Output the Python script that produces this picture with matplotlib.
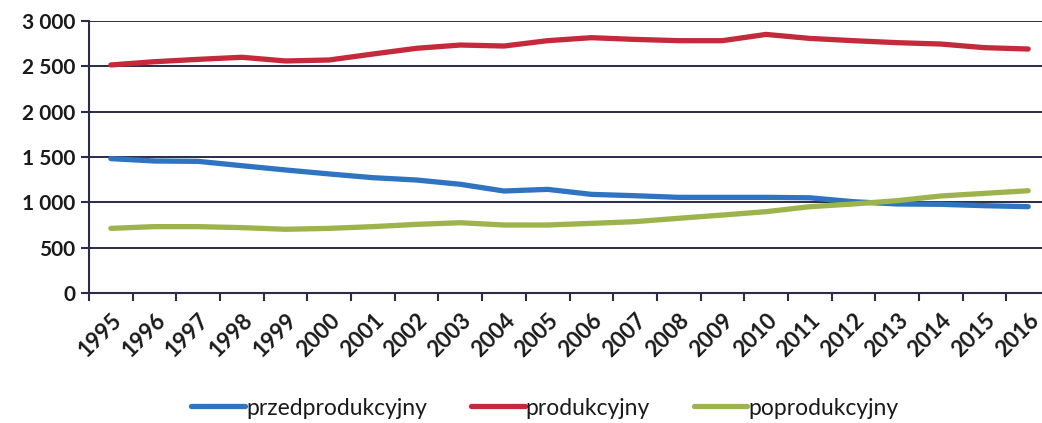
import numpy as np
import matplotlib
matplotlib.use('Agg')
import matplotlib.pyplot as plt
from matplotlib.ticker import FuncFormatter, FixedLocator

#--- DATA ---------------------------------------------------------------------+

years = [str(y) for y in range(1995, 2017)]

przedprodukcyjny = [1482, 1456, 1452, 1404, 1357, 1313, 1272, 1246, 1199, 1125, 1143,
                    1088, 1073, 1055, 1055, 1055, 1050, 1007, 982, 978, 963, 952]
produkcyjny = [2515, 2551, 2577, 2600, 2559, 2570, 2636, 2699, 2735, 2724, 2783,
               2816, 2797, 2783, 2783, 2852, 2808, 2783, 2761, 2746, 2706, 2691]
poprodukcyjny = [713, 732, 732, 721, 703, 713, 732, 757, 775, 750, 750,
                 768, 787, 824, 860, 897, 952, 982, 1018, 1070, 1099, 1128]

series = [('przedprodukcyjny', przedprodukcyjny, '#2f74c0'),
          ('produkcyjny', produkcyjny, '#c42a3c'),
          ('poprodukcyjny', poprodukcyjny, '#9db34c')]

#--- PLOT ---------------------------------------------------------------------+

plt.rcParams['font.family'] = ['Lato', 'DejaVu Sans']
W, H = 1042, 423
fig = plt.figure(figsize=(W/100, H/100), dpi=100)
ax = fig.add_axes([89/W, (H-293)/H, 961/W, (293-21)/H])

x = np.arange(len(years))
for name, vals, col in series:
    ax.plot(x, vals, color=col, lw=3.8, label=name, solid_capstyle='round', zorder=3)

ax.set_xlim(-0.5, len(years)-0.5)
ax.set_ylim(0, 3000)
ax.set_yticks(np.arange(0, 3001, 500))
ax.yaxis.set_major_formatter(FuncFormatter(lambda v, p: f'{int(v):,}'.replace(',', ' ')))
ax.grid(axis='y', color='#2a2c48', lw=1.4, zorder=1)

# ticks at category boundaries, labels at centres
ax.xaxis.set_major_locator(FixedLocator(np.arange(-0.5, len(years), 1)))
ax.xaxis.set_major_formatter(FuncFormatter(lambda v, p: ''))
ax.xaxis.set_minor_locator(FixedLocator(x))
ax.set_xticklabels(years, minor=True, rotation=45, ha='right', rotation_mode='anchor',
                   fontsize=16, fontweight='bold', color='#1a1a1a')
ax.tick_params(axis='x', which='major', length=6, width=1.5, color='#2a2c48', direction='out')
ax.tick_params(axis='x', which='minor', length=0, pad=12)
ax.tick_params(axis='y', length=6, width=1.5, color='#2a2c48', labelsize=15, labelcolor='#1a1a1a', pad=4)
for lab in ax.get_yticklabels():
    lab.set_fontweight('bold')

for s in ['top', 'right']:
    ax.spines[s].set_visible(False)
ax.spines['left'].set_color('#2a2c48')
ax.spines['left'].set_linewidth(1.5)
ax.spines['bottom'].set_color('#2a2c48')
ax.spines['bottom'].set_linewidth(1.5)

leg = fig.legend(loc='center', bbox_to_anchor=(545/W, 1-408/H), ncol=3, frameon=False,
                 fontsize=16.5, handlelength=2.35, handletextpad=0.05, columnspacing=1.9)
for t in leg.get_texts():
    t.set_color('#1a1a1a')

plt.savefig('out.png', dpi=100)
